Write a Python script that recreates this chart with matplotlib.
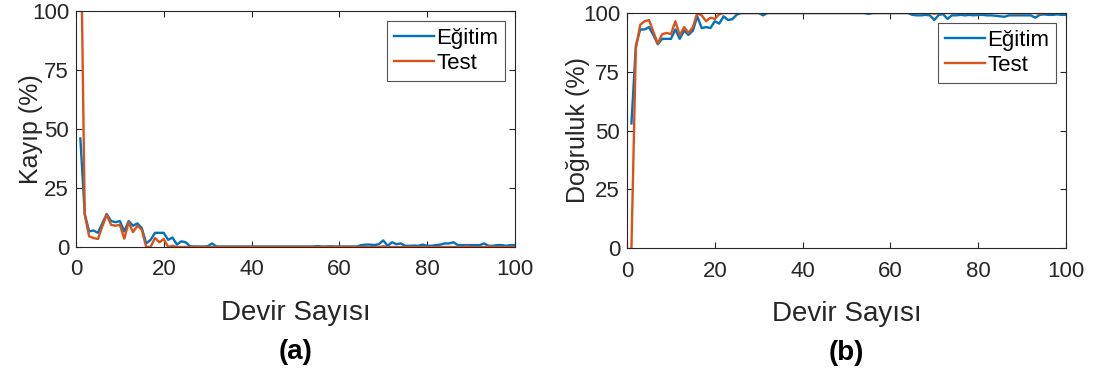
import numpy as np
import matplotlib
matplotlib.use("Agg")
import matplotlib.pyplot as plt

plt.rcParams['font.family'] = ['Liberation Sans', 'DejaVu Sans']

epochs = np.arange(1, 101)

# Kayip (loss) values
loss_train = [46, 14, 6.6, 7, 6, 10, 14, 11, 10.5, 11,
              6.6, 11, 9, 10, 8, 1.5, 3, 6, 6, 6,
              3, 4, 1, 2.4, 2, 0.3, 0.2, 0.2, 0.2, 0.3,
              1.5, 0.2, 0.2, 0.2, 0.2, 0.2, 0.2, 0.2, 0.2, 0.2,
              0.2, 0.2, 0.2, 0.2, 0.2, 0.2, 0.2, 0.2, 0.2, 0.2,
              0.2, 0.2, 0.2, 0.2, 0.4, 0.2, 0.2, 0.3, 0.2, 0.2,
              0.2, 0.2, 0.2, 0.2, 0.8, 1, 1, 0.8, 1.2, 2.8,
              0.5, 2, 1.2, 1.5, 0.5, 0.5, 0.6, 0.5, 1, 0.5,
              0.5, 0.8, 1, 1.5, 1.5, 2, 0.8, 0.8, 0.8, 0.8,
              0.8, 0.8, 1.5, 0.5, 0.5, 0.8, 0.8, 0.5, 0.8, 0.8]
loss_test = [150, 13.7, 4.5, 3.8, 3.4, 8.7, 13.7, 9.4, 9, 9.4,
             3.5, 10.4, 6.3, 9, 7.3, 0, 0, 3.8, 2, 3.4,
             0, 0.5, 0, 0, 0, 0, 0, 0, 0, 0,
             0, 0, 0, 0, 0, 0, 0, 0, 0, 0,
             0, 0, 0, 0, 0, 0, 0, 0, 0, 0,
             0, 0, 0, 0, 0, 0, 0, 0, 0, 0,
             0, 0, 0, 0, 0, 0, 0, 0, 0, 0.3,
             0, 0, 0, 0, 0, 0, 0, 0, 0, 0,
             0, 0, 0, 0, 0, 0, 0, 0, 0.3, 0,
             0, 0, 0, 0.3, 0, 0, 0, 0, 0, 0]

# Dogruluk (accuracy) values
acc_train = [53, 86, 93, 93, 94, 90.6, 86.7, 89, 89, 89,
             93, 89, 92.5, 90.7, 92.5, 98.6, 93.6, 94, 93.6, 96.5,
             95.5, 98.6, 97, 97.4, 99.3, 100, 100, 100, 100, 100,
             99, 100, 100, 100, 100, 100, 100, 100, 100, 100,
             100, 100, 100, 100, 100, 100, 100, 100, 100, 100,
             100, 100, 100, 100, 99.6, 100, 100, 100, 100, 100,
             100, 100, 100, 100, 99.2, 99, 99, 99.2, 99, 97,
             99.2, 99.5, 97.5, 99, 99, 99.2, 99, 99.2, 99, 99.2,
             99.2, 99, 99, 98.8, 98.6, 98.4, 99, 99, 99, 99,
             99, 99, 98, 99.2, 99.4, 99.2, 99.2, 99.4, 99.2, 99.2]
acc_test = [0, 85, 95, 96.5, 97, 92, 87, 91, 91.5, 91,
            96.5, 90.5, 94, 91.5, 94, 100, 99, 96.5, 98, 97.5,
            99.5, 100, 100, 100, 100, 100, 100, 100, 100, 100,
            100, 100, 100, 100, 100, 100, 100, 100, 100, 100,
            100, 100, 100, 100, 100, 100, 100, 100, 100, 100,
            100, 100, 100, 100, 100, 100, 100, 100, 100, 100,
            100, 100, 100, 100, 100, 100, 100, 100, 100, 99.7,
            100, 100, 100, 100, 100, 100, 100, 100, 100, 100,
            100, 100, 100, 100, 100, 100, 100, 100, 99.7, 100,
            100, 100, 100, 99.7, 100, 100, 100, 100, 100, 100]

x_ticks = [0, 20, 40, 60, 80, 100]
y_ticks = [0, 25, 50, 75, 100]
blue = '#0072BD'
orange = '#D95319'

fig = plt.figure(figsize=(10.93, 3.78), dpi=100)
ax1 = fig.add_axes([0.0695, 0.3466, 0.4016, 0.6243])
ax2 = fig.add_axes([0.5737, 0.3439, 0.4016, 0.6217])


def style_axes(ax, ylabel, panel, ylab_x):
    ax.set_xlim(0, 100)
    ax.set_ylim(0, 100)
    ax.set_xticks(x_ticks)
    ax.set_yticks(y_ticks)
    ax.tick_params(direction='in', top=True, right=True, length=4,
                   labelsize=16, colors='#262626', pad=5)
    ax.tick_params(axis='x', pad=9)
    for s in ax.spines.values():
        s.set_color('#262626')
        s.set_linewidth(0.8)
    ax.set_xlabel('Devir Sayısı', fontsize=20, color='#262626')
    ax.xaxis.set_label_coords(0.5, -0.225)
    ax.set_ylabel(ylabel, fontsize=18, color='#262626')
    ax.yaxis.set_label_coords(ylab_x, 0.5)
    ax.text(0.5, -0.445, panel, transform=ax.transAxes, ha='center', va='center',
            fontsize=20, fontweight='bold')
    leg = ax.legend(loc='upper right', fontsize=16, fancybox=False,
                    edgecolor='#262626', handlelength=1.8, handletextpad=0.1,
                    borderpad=0.3, labelspacing=0.2, borderaxespad=0.45)
    leg.get_frame().set_linewidth(0.8)


ax1.plot(epochs, loss_train, color=blue, lw=1.7, label='Eğitim')
ax1.plot(epochs, loss_test, color=orange, lw=1.7, label='Test')
style_axes(ax1, 'Kayıp (%)', '(a)', -0.075)

ax2.plot(epochs, acc_train, color=blue, lw=1.7, label='Eğitim')
ax2.plot(epochs, acc_test, color=orange, lw=1.7, label='Test')
style_axes(ax2, 'Doğruluk (%)', '(b)', -0.085)

fig.savefig('out.png', dpi=100)
